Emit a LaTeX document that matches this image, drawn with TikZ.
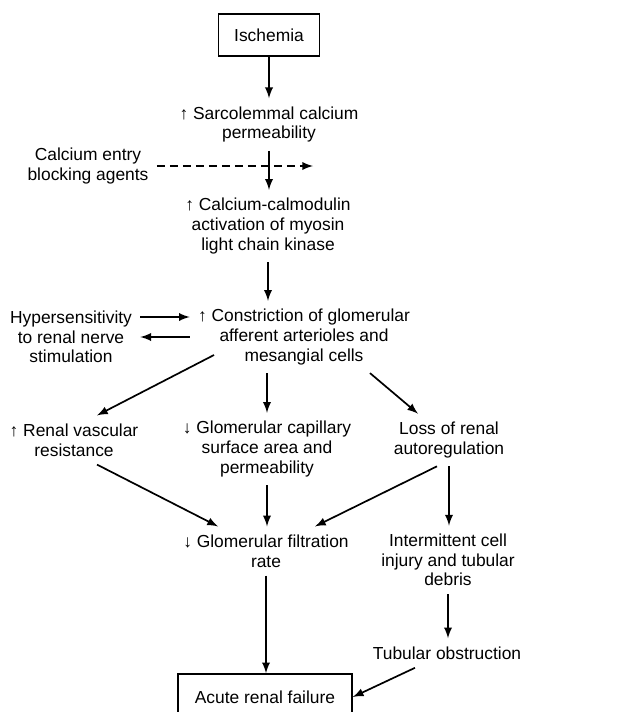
\documentclass[tikz,border=0pt]{standalone}
\usepackage{fontspec}
\setmainfont{Liberation Sans}
\usetikzlibrary{arrows}

\begin{document}
\begin{tikzpicture}[x=0.5pt, y=-0.5pt,
				   every node/.style={align=center, inner sep=4pt, font=\fontsize{8.7}{9.8}\selectfont},
				   box/.style={draw=black, line width=0.8pt, inner sep=0pt},
				   link/.style={-latex, line width=0.85pt}]
\useasboundingbox (0,0) rectangle (629,712);
\node[box, minimum width=50.5pt, minimum height=21pt] (isch) at (269,35) {Ischemia};
\node (sarco) at (269,124.5) {↑ Sarcolemmal calcium\\permeability};
\node (block) at (88,166) {Calcium entry\\blocking agents};
\node (calmod) at (268,226) {↑ Calcium-calmodulin\\activation of myosin\\light chain kinase};
\node (constr) at (304,337) {↑ Constriction of glomerular\\afferent arterioles and\\mesangial cells};
\node (hyper) at (71,337) {Hypersensitivity\\to renal nerve\\stimulation};
\node (renal) at (74,440) {↑ Renal vascular\\resistance};
\node (glomcap) at (267,449) {↓ Glomerular capillary\\surface area and\\permeability};
\node (loss) at (449,440) {Loss of renal\\autoregulation};
\node (gfr) at (266,551) {↓ Glomerular filtration\\rate};
\node (interm) at (448,560) {Intermittent cell\\injury and tubular\\debris};
\node (tubular) at (447,653) {Tubular obstruction};
\node[box, minimum width=87pt, minimum height=23pt] (arf) at (265,697) {Acute renal failure};
\coordinate (blockend) at (313,166);
\draw[link] (isch.south) -- (isch.south |- sarco.north);
\draw[link] (sarco.south) -- (sarco.south |- calmod.north);
\draw[link, dash pattern=on 4pt off 2.5pt] (block.east) -- (blockend);
\draw[link] (calmod.south) -- (calmod.south |- constr.north);
\draw[link] ([yshift=10pt]hyper.east) -- ([yshift=10pt]constr.west);
\draw[link] (constr.west) -- (hyper.east);
\draw[link] ([shift={(-90,18)}]constr.center) -- ([xshift=11.5pt]renal.north);
\draw[link] (glomcap.north |- constr.south) -- (glomcap.north);
\draw[link] ([xshift=33pt]constr.south) -- ([xshift=-15.5pt]loss.north);
\draw[link] ([xshift=11.5pt]renal.south) -- ([xshift=-24pt]gfr.north);
\draw[link] (glomcap.south) -- (glomcap.south |- gfr.north);
\draw[link] ([xshift=-6pt]loss.south) -- ([xshift=24.5pt]gfr.north);
\draw[link] (loss.south) -- (loss.south |- interm.north);
\draw[link] (interm.south) -- (interm.south |- tubular.north);
\draw[link] (gfr.south) -- (gfr.south |- arf.north);
\draw[link] ([xshift=-16pt]tubular.south) -- (arf.east);
\end{tikzpicture}
\end{document}
